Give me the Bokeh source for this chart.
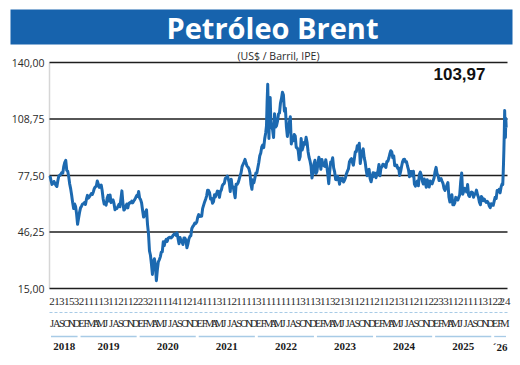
from bokeh.plotting import figure
from bokeh.core.properties import value
from bokeh.embed import file_html
from bokeh.resources import INLINE

# ---------------- data ----------------
title = "Petróleo Brent"
subtitle = "(US$ / Barril, IPE)"

y_ticks = [15, 46.25, 77.5, 108.75, 140]
y_tick_labels = ["15,00", "46,25", "77,50", "108,75", "140,00"]

month_letters = (["J", "A", "S", "O", "N", "D"]
                 + ["E", "F", "M", "A", "M", "J", "J", "A", "S", "O", "N", "D"] * 7
                 + ["E", "F", "M"])

day_labels = ["2", "1", "3", "1", "5", "3",
              "2", "1", "1", "1", "1", "3", "1", "1", "2", "1", "1", "2",
              "2", "3", "2", "1", "1", "1", "1", "4", "1", "1", "2", "1",
              "4", "1", "1", "1", "3", "1", "1", "2", "1", "1", "1", "1",
              "3", "1", "1", "1", "1", "1", "1", "1", "1", "3", "1", "1",
              "3", "1", "1", "3", "2", "1", "3", "1", "1", "2", "1", "1",
              "2", "1", "1", "2", "1", "3", "1", "1", "2", "1", "1", "2",
              "2", "3", "3", "1", "1", "2", "1", "1", "1", "1", "3", "1",
              "2", "2", "24"]

year_labels = ["2018", "2019", "2020", "2021", "2022", "2023", "2024", "2025", "´26"]
months_per_year = [6, 12, 12, 12, 12, 12, 12, 12, 3]
last_month_fraction = 24 / 31

# Brent price, several readings per month (month by month)
brent_2018 = [[77.3, 74.8, 72.6, 73.1, 74.2], [73.2, 72.1, 71.4, 74.7, 77.4],
              [77.5, 78.2, 79.1, 78.8, 82.6], [84.8, 85.9, 80.4, 79.8, 76.9],
              [72.8, 70.1, 66.6, 62.6, 59.2], [61.7, 60.3, 56.3, 50.5, 53.8]]
brent_2019 = [[57.1, 59.6, 60.5, 61.7, 61.9], [62.5, 61.5, 64.4, 66.5, 65.0],
              [65.7, 66.6, 67.5, 67.0, 68.4], [70.3, 71.2, 71.6, 74.5, 72.8],
              [70.9, 71.2, 72.2, 69.0, 64.5], [61.7, 62.0, 61.1, 64.9, 66.5],
              [63.4, 66.7, 62.5, 63.5, 64.0], [61.9, 58.5, 59.5, 59.3, 60.4],
              [61.5, 60.2, 64.6, 69.0, 62.5], [58.4, 58.9, 60.5, 61.7, 59.6],
              [62.1, 62.5, 62.3, 63.3, 62.4], [63.4, 64.2, 65.2, 66.4, 66.0]]
brent_2020 = [[68.6, 65.0, 64.2, 62.3, 58.3], [54.5, 55.3, 57.3, 58.5, 50.5],
              [45.3, 35.8, 33.4, 28.5, 22.8], [29.9, 31.5, 28.0, 19.3, 25.3],
              [29.7, 30.9, 32.5, 35.1, 35.3], [40.8, 38.7, 41.0, 42.2, 41.1],
              [42.8, 43.2, 43.3, 43.0, 43.5], [44.4, 45.0, 45.2, 44.4, 45.8],
              [42.7, 39.8, 43.2, 41.4, 40.9], [39.3, 42.9, 42.9, 41.8, 37.5],
              [39.5, 42.4, 43.8, 44.2, 48.2], [49.3, 50.0, 51.2, 50.9, 51.8]]
brent_2021 = [[54.4, 55.9, 54.8, 55.4, 55.0], [59.3, 61.1, 62.9, 64.4, 66.1],
              [69.4, 69.2, 68.0, 64.5, 64.9], [62.2, 63.0, 66.8, 65.7, 67.3],
              [68.9, 68.7, 65.4, 68.5, 69.6], [71.9, 72.7, 73.2, 75.9, 76.2],
              [77.2, 75.6, 73.5, 68.6, 75.4], [71.1, 71.3, 68.2, 65.2, 72.7],
              [72.6, 73.5, 75.3, 77.3, 79.0], [82.4, 83.7, 84.9, 86.4, 84.4],
              [82.7, 82.2, 81.2, 78.9, 72.7], [69.9, 75.2, 73.5, 76.0, 78.9]]
brent_2022 = [[78.9, 81.8, 84.7, 88.4, 90.0], [93.3, 94.4, 92.9, 97.9, 101.0],
              [105.0, 118.1, 128.0, 111.0, 98.0, 115.6, 120.6, 107.9],
              [104.4, 102.8, 98.5, 111.7, 104.3], [105.0, 107.5, 111.6, 112.0, 117.6],
              [120.0, 123.6, 122.0, 113.1, 114.8], [104.6, 99.1, 103.2, 106.9, 110.0],
              [94.9, 98.2, 96.7, 100.2, 99.3], [93.0, 92.8, 91.4, 86.2, 88.0],
              [97.9, 91.6, 93.5, 95.8, 94.8], [98.6, 95.9, 90.8, 87.6, 85.6],
              [82.7, 76.1, 79.0, 83.9, 85.9]]
brent_2023 = [[78.6, 79.7, 84.0, 87.6, 84.9], [80.9, 86.4, 84.0, 83.0, 82.5],
              [86.2, 82.8, 78.4, 73.0, 79.8], [85.0, 84.9, 87.3, 81.7, 79.5],
              [75.3, 75.2, 77.0, 75.6, 72.7], [76.0, 74.8, 76.1, 73.9, 74.9],
              [76.3, 78.5, 79.9, 81.1, 85.0], [86.2, 86.8, 84.8, 83.2, 86.9],
              [90.6, 90.7, 93.9, 93.3, 95.3], [84.1, 88.2, 90.9, 92.2, 87.4],
              [84.9, 80.6, 77.4, 80.6, 80.9], [75.8, 74.0, 76.6, 79.0, 77.0]]
brent_2024 = [[78.8, 76.3, 78.3, 80.0, 83.6], [77.3, 81.6, 82.2, 83.7, 83.6],
              [82.8, 81.9, 85.3, 85.4, 87.0], [89.4, 91.2, 90.5, 87.3, 88.4],
              [83.0, 82.8, 83.3, 81.4, 81.6], [77.5, 79.8, 82.6, 85.2, 86.4],
              [86.5, 85.0, 85.1, 82.6, 80.7], [76.8, 79.7, 79.7, 77.2, 79.9],
              [72.7, 71.6, 72.7, 74.5, 71.8], [78.0, 79.4, 77.5, 74.5, 72.8],
              [75.6, 73.9, 71.0, 75.2, 72.9], [71.1, 74.5, 73.5, 72.9, 74.6]]
brent_2025 = [[76.3, 79.8, 82.0, 78.5, 77.5], [74.7, 75.0, 75.8, 74.4, 73.2],
              [70.4, 69.3, 70.6, 72.2, 73.6], [65.6, 62.8, 64.8, 66.9, 61.3],
              [61.3, 62.4, 65.4, 64.8, 63.9], [65.3, 66.9, 74.2, 78.9, 67.1],
              [68.6, 70.4, 69.4, 68.4, 72.5], [66.6, 65.9, 67.7, 68.4, 68.1],
              [65.5, 67.0, 67.4, 69.4, 67.0], [65.5, 62.7, 61.3, 65.9, 65.0],
              [63.6, 64.4, 63.2, 62.6, 63.2], [62.4, 60.6, 59.7, 61.9, 61.1]]
brent_2026 = [[61.0, 63.3, 65.5, 64.8, 69.2], [68.5, 69.8, 67.9, 71.2, 72.8],
              [72.5, 78.0, 84.5, 92.0, 101.0, 113.5, 104.0, 98.5, 109.0, 103.97]]

# ---------------- build series ----------------
all_months = (brent_2018 + brent_2019 + brent_2020 + brent_2021 + brent_2022
              + brent_2023 + brent_2024 + brent_2025 + brent_2026)
n_months = len(all_months)
xs, ys = [], []
for i, vals in enumerate(all_months):
    span = last_month_fraction if i == n_months - 1 else 1.0
    n = len(vals)
    for k, v in enumerate(vals):
        xs.append(i + (k + 0.5) / n * span)
        ys.append(v)
last_value = ys[-1]
last_label = f"{last_value:.2f}".replace(".", ",")

BLUE = "#1763ad"
LINE = "#1c69b0"
LIGHT = "#a8cbe6"
TXT = "#2a2a2a"

# ---------------- geometry (picture pixels -> data units) ----------------
W, H = 520, 365
PLOT_L, PLOT_R = 49, 507      # plot area (picture x) spanning the months
PXM = (PLOT_R - PLOT_L) / n_months
PXU = 226 / 125               # px per US$ (140 at y 62, 15 at y 288)

def mx(px):
    return (px - PLOT_L) / PXM

def vy(py):
    return 140 - (py - 62) / PXU

p = figure(width=W, height=H, x_range=(mx(0), mx(W)), y_range=(vy(H), vy(0)),
           output_backend="svg", toolbar_location=None, x_axis_type=None,
           y_axis_type=None, min_border=0, title=None)
p.outline_line_color = None
p.background_fill_color = "white"
p.border_fill_color = "white"

# banner
p.quad(left=[mx(10)], right=[mx(512)], top=[vy(9)], bottom=[vy(44)],
       fill_color=BLUE, line_color=None)
p.text(x=[mx(272)], y=[vy(27)], text=[title], text_align="center",
       text_baseline="middle", text_font=value("Open Sans"),
       text_font_size="29px", text_font_style="bold", text_color="white")
p.text(x=[n_months / 2], y=[vy(55)], text=[subtitle], text_align="center",
       text_baseline="middle", text_font=value("Open Sans"), text_font_size="10.5px",
       text_color=TXT)

# value axis: left rule, grid lines and labels
p.segment(x0=[0], y0=[y_ticks[0]], x1=[0], y1=[y_ticks[-1]], line_color="#d6d6d6",
          line_width=1.5)
p.segment(x0=[0] * len(y_ticks), y0=y_ticks, x1=[n_months] * len(y_ticks), y1=y_ticks,
          line_color="#1e1e1e", line_width=1.6)
p.text(x=[mx(44)] * len(y_ticks), y=y_ticks, text=y_tick_labels, text_align="right",
       text_baseline="middle", text_font=value("Open Sans"), text_font_size="10.5px",
       text_color=TXT)

# price line
p.line(xs, ys, line_color=LINE, line_width=3.0, line_join="round")

p.text(x=[mx(459)], y=[vy(73)], text=[last_label], text_align="center",
       text_baseline="middle", text_font=value("Liberation Sans"), text_font_size="17px",
       text_font_style="bold", text_color="#111111")

# time axis rows
centers = [i + 0.5 for i in range(n_months)]
p.text(x=centers, y=[vy(301)] * n_months, text=day_labels, text_align="center",
       text_baseline="middle", text_font=value("Liberation Sans Narrow"),
       text_font_size="11px", text_color=TXT)
p.segment(x0=[0], y0=[vy(312)], x1=[n_months], y1=[vy(312)], line_color=LIGHT,
          line_width=1.2, line_dash="3 2")
p.text(x=centers, y=[vy(323)] * n_months, text=month_letters, text_align="center",
       text_baseline="middle", text_font=value("Liberation Sans Narrow"),
       text_font_size="10.5px", text_color=TXT)

starts, ends, mids = [], [], []
acc = 0
for m in months_per_year:
    starts.append(acc + 0.3)
    ends.append(acc + m - 0.3)
    mids.append(acc + m / 2)
    acc += m
p.segment(x0=starts, y0=[vy(336)] * len(starts), x1=ends, y1=[vy(336)] * len(ends),
          line_color=LIGHT, line_width=1.3)
p.text(x=mids, y=[vy(346)] * len(mids), text=year_labels, text_align="center",
       text_baseline="middle", text_font=value("Liberation Sans Narrow"),
       text_font_size="11px", text_font_style="bold", text_color="#1a1a1a")

open("out.html", "w").write(file_html(p, INLINE))
